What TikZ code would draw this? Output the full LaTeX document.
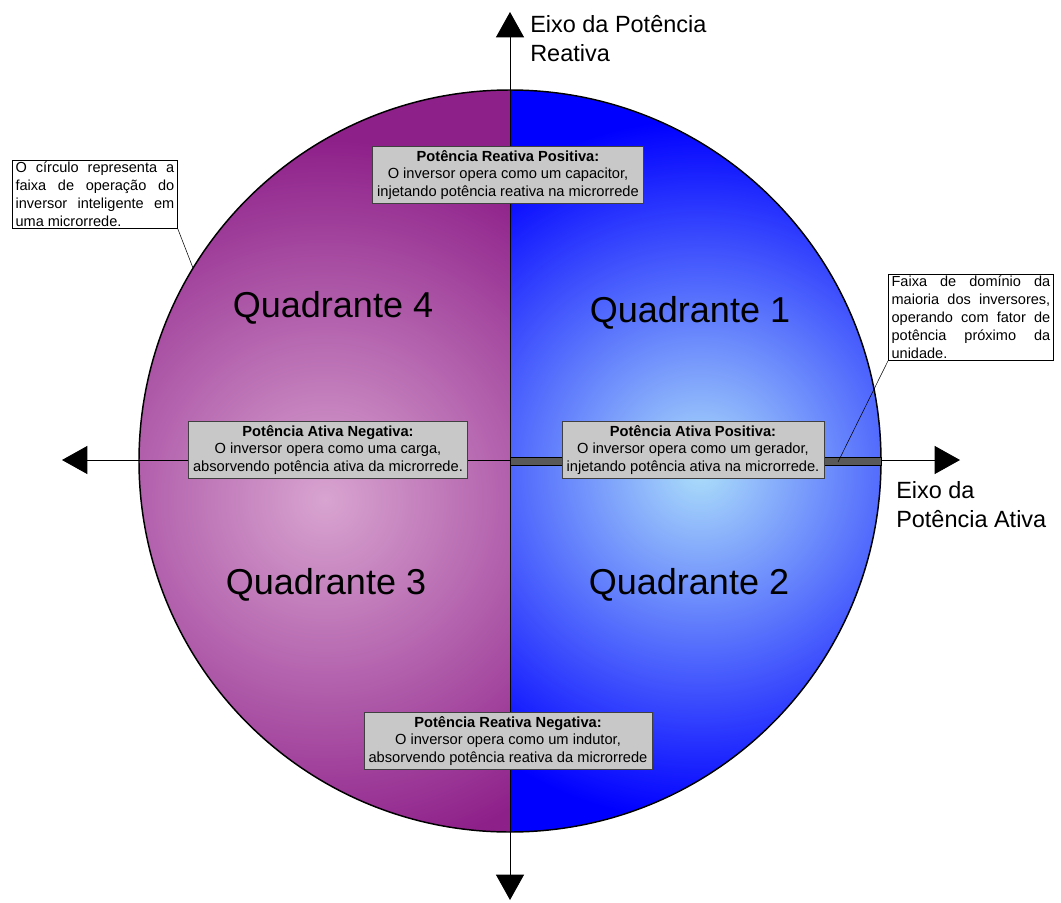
\documentclass[tikz,border=0pt]{standalone}
\usepackage{fontspec}
\setmainfont{Liberation Sans}
\usetikzlibrary{arrows.meta,positioning}
\definecolor{purpin}{RGB}{216,164,208}
\definecolor{purpout}{RGB}{142,32,138}
\definecolor{bluein}{RGB}{172,222,250}
\definecolor{blueout}{RGB}{0,0,255}
\definecolor{boxgray}{RGB}{200,200,200}

\begin{document}
\begin{tikzpicture}[x=0.75pt,y=-0.75pt,
    >={Triangle[length=19pt,width=21pt]},
    info box/.style={draw=black!75,fill=boxgray,inner xsep=3.5pt,inner ysep=3pt,align=center,
                     font=\fontsize{11}{13.2}\selectfont},
    quad label/.style={font=\fontsize{27}{30}\selectfont},
    note box/.style={draw,fill=white,text width=119pt,align=justify,
                     inner xsep=2.5pt,inner ysep=1.5pt,font=\fontsize{10.9}{13.4}\selectfont},
    axis label/.style={align=left,inner sep=0pt,font=\fontsize{17.6}{21.8}\selectfont}]

    \useasboundingbox (0,0) rectangle (1061,903);

    % Define points
    \coordinate (O) at (510,461);
    \coordinate (xl) at (62,460);
    \coordinate (xr) at (960,460);
    \coordinate (yt) at (510,12);
    \coordinate (yb) at (510,900);

    % Circle halves
    \begin{scope}
        \clip (O) circle (371);
        \begin{scope}
            \clip (0,0) rectangle (510,903);
            \fill[purpout] (0,0) rectangle (510,903);
            \shade[inner color=purpin,outer color=purpout] (325,500) circle (360);
        \end{scope}
        \begin{scope}
            \clip (510,0) rectangle (1061,903);
            \fill[blueout] (510,0) rectangle (1061,903);
            \shade[inner color=bluein,outer color=blueout] (700,470) circle (350);
        \end{scope}
    \end{scope}
    \draw[line width=1.1pt] (O) circle (371);

    % Axes
    \draw[line width=0.75pt,<->] (xl) -- (xr);
    \draw[line width=0.75pt,<->] (yb) -- (yt);
    \draw[fill=black!65,line width=0.5pt] (510,457) rectangle (881,465);

    % Quadrants
    \node[quad label] (q1) at (690,313) {Quadrante 1};
    \node[quad label] (q2) at (689,585) {Quadrante 2};
    \node[quad label] (q3) at (326,585) {Quadrante 3};
    \node[quad label] (q4) at (333,308) {Quadrante 4};

    % Power boxes
    \node[info box] (rpos) at (508,175) {\textbf{Potência Reativa Positiva:}\\O inversor opera como um capacitor,\\injetando potência reativa na microrrede};
    \node[info box] (rneg) at (508,741) {\textbf{Potência Reativa Negativa:}\\O inversor opera como um indutor,\\absorvendo potência reativa da microrrede};
    \node[info box] (aneg) at (328,450) {\textbf{Potência Ativa Negativa:}\\O inversor opera como uma carga,\\absorvendo potência ativa da microrrede.};
    \node[info box] (apos) at (693,450) {\textbf{Potência Ativa Positiva:}\\O inversor opera como um gerador,\\injetando potência ativa na microrrede.};

    % Axis labels
    \node[axis label,anchor=north west] (ylab) at (530,15) {Eixo da Potência\\Reativa};
    \node[axis label,anchor=north west] (xlab) at (896,481) {Eixo da\\Potência Ativa};

    % Notes
    \node[note box,anchor=north west] (circnote) at (12,160) {O círculo representa a\linebreak faixa de operação do\linebreak inversor inteligente em\linebreak uma microrrede.};
    \node[note box,anchor=north west] (faixanote) at (888,274) {Faixa de domínio da\linebreak maioria dos inversores,\linebreak operando com fator de\linebreak potência próximo da\linebreak unidade.};
    \coordinate (c1) at (193,268);
    \coordinate (c2) at (838,462);
    \draw (circnote.south east) -- (c1);
    \draw (faixanote.south west) -- (c2);

\end{tikzpicture}
\end{document}
